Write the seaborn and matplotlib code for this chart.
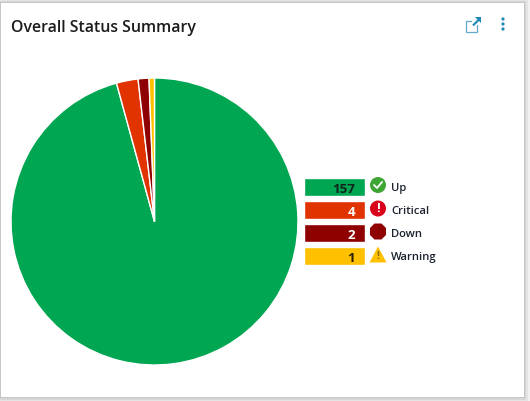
import matplotlib
matplotlib.use("Agg")
from matplotlib import pyplot as plt
from matplotlib.patches import Circle, Polygon, Rectangle
import seaborn as sns

statuses = ["Up", "Critical", "Down", "Warning"]
counts = [157, 4, 2, 1]
colors = ["#00A651", "#E03300", "#8F0000", "#FFC000"]
count_colors = ["#10261c", "white", "white", "#2a2000"]
swatch_len = [1, 1, 1, 1]

W, H = 530, 402
sns.set_theme(style="white")
plt.rcParams["font.family"] = ["Open Sans", "DejaVu Sans"]

fig = plt.figure(figsize=(W / 100, H / 100), dpi=100, facecolor="#f1f1f1")

# whole figure in pixel coordinates, y pointing down
ax = fig.add_axes([0, 0, 1, 1])
ax.set_xlim(0, W)
ax.set_ylim(H, 0)
ax.axis("off")

# card shadow and card
ax.add_patch(Rectangle((0, 0), 528, 402, fc="#e4e4e4", ec="none"))
ax.add_patch(Rectangle((0, 2), 526, 398.5, fc="#d6d6d6", ec="none"))
ax.add_patch(Rectangle((0, 3), 524.5, 396, fc="#c6c6c6", ec="none"))
ax.add_patch(Rectangle((1, 4), 522.5, 393.5, fc="white", ec="none"))

ax.text(11, 28, "Overall Status Summary", fontsize=11.4, fontweight=600, color="#1c1c1c",
        va="center", ha="left")

# y axis points down here, so counterclock comes out clockwise on screen
ax.pie(counts, colors=colors, startangle=-90, counterclock=True,
       center=(154.5, 222.5), radius=143.5,
       wedgeprops={"edgecolor": "white", "linewidth": 1.0}, frame=True)
ax.set_xlim(0, W)
ax.set_ylim(H, 0)
ax.set_aspect("equal")
ax.axis("off")

# popout icon
blue = "#1C87B5"
ax.add_patch(Rectangle((466, 22), 11, 11, fc="none", ec="#5fa9cb", lw=0.9))
ax.add_patch(Rectangle((472, 17), 10, 9, fc="white", ec="none"))
ax.plot([473, 479], [26.5, 20.5], color=blue, lw=1.5, solid_capstyle="butt")
ax.add_patch(Polygon([[475, 18], [481, 18], [481, 24]], fc=blue, ec="none"))

# kebab menu
for y in [20, 25, 30]:
    ax.add_patch(Circle((503, y), 1.6, fc=blue, ec="none"))

# legend swatches, one category pitch is 23 px
lax = fig.add_axes([304 / W, 1 - 268 / H, 61 / W, 92 / H])
sns.barplot(x=swatch_len, y=statuses, hue=statuses, palette=colors, width=18 / 23,
            legend=False, dodge=False, saturation=1, ax=lax)
lax.set_xlim(0, 1)
lax.set_ylim(3.5, -0.5)
lax.axis("off")

for i, (n, c) in enumerate(zip(counts, count_colors)):
    lax.text(51 / 61, i + 0.02, str(n), color=c, ha="right", va="center_baseline",
             fontsize=9.6, fontweight="bold")

# legend icons and labels
rows = [187, 210, 233, 256]
for y, name in zip(rows, statuses):
    ax.text(391, y + 1.5, name, fontsize=8.1, fontweight=600, color="#1c2230",
            va="center", ha="left")

ax.add_patch(Circle((378, 186), 8, fc="#3FA535", ec="none"))
ax.plot([374, 377, 382], [186, 189, 183], color="white", lw=1.3)

ax.add_patch(Circle((378, 209.5), 8, fc="#D9001B", ec="none"))
ax.text(378, 209, "!", color="white", fontsize=9.5, fontweight="bold", ha="center", va="center")

ax.add_patch(Polygon([[374.5, 224.5], [381.5, 224.5], [386, 229], [386, 236],
                      [381.5, 240.5], [374.5, 240.5], [370, 236], [370, 229]],
                     fc="#8F0000", ec="none"))

ax.add_patch(Polygon([[378, 247.5], [386.5, 263.5], [369.5, 263.5]], fc="#FFC000", ec="none"))
ax.text(378, 257, "!", color="#8a6a00", fontsize=7.5, fontweight="bold", ha="center", va="center")

fig.savefig("out.png", dpi=100, facecolor=fig.get_facecolor())
